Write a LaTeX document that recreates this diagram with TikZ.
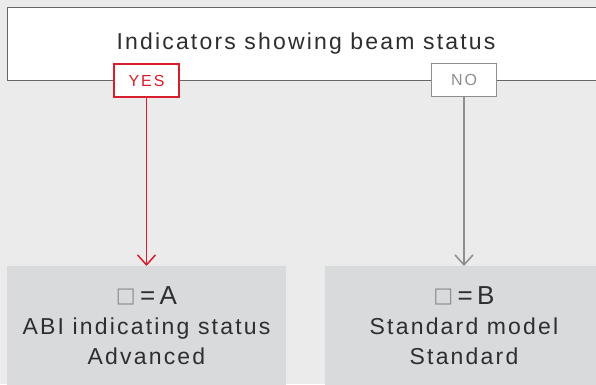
\documentclass[tikz,border=0pt]{standalone}
\usepackage{fontspec}
\setmainfont{Liberation Sans}[LetterSpace=9.5]
\newfontfamily\symfont{DejaVu Sans}
\usetikzlibrary{arrows.meta,positioning}
\definecolor{bg}{HTML}{EBEBEB}
\definecolor{boxgray}{HTML}{D9DADC}
\definecolor{ink}{HTML}{2E2E2E}
\definecolor{frame}{HTML}{666666}
\definecolor{red}{HTML}{D81E2C}
\definecolor{muted}{HTML}{8E8E8E}
\begin{document}
\begin{tikzpicture}[x=1pt,y=-1pt, every node/.style={font=\fontsize{23}{30}\selectfont,text=ink,align=center,inner sep=0pt},
  top/.style={draw=frame,line width=1pt,fill=white,minimum width=598pt,minimum height=73pt},
  tag/.style={fill=white,line width=1.5pt,minimum width=65pt,minimum height=33pt,font=\fontsize{16}{18}\selectfont\addfontfeatures{LetterSpace=12}},
  res/.style={fill=boxgray,minimum width=279pt,minimum height=130pt,anchor=north},
  a/.style={line width=1.5pt,-{Straight Barb[length=10pt,width=18pt]}}]
  \useasboundingbox (0,0) rectangle (596,384);
  \fill[bg] (0,0) rectangle (596,384);
  \clip (0,0) rectangle (596,384);
  \node[top] (q) at (306,43.5) {};
  \node (qt) at (306,44) {Indicators showing beam status};
  \node[tag,draw=red,text=red] (yes) at (146.5,80.5) {YES};
  \node[tag,draw=muted,text=muted] (no) at (464,80) {NO};
  \node[res] (ra) at (146.5,266) {};
  \node[res] (rb) at (464,266) {};
  \node[below=20pt of ra.north] (ta) {{\symfont\fontsize{21}{30}\selectfont\color{muted}\raisebox{1.5pt}{□}}{\fontsize{26}{30}\selectfont\,=\,A}\\ABI indicating status\\Advanced};
  \node[below=20pt of rb.north] (tb) {{\symfont\fontsize{21}{30}\selectfont\color{muted}\raisebox{1.5pt}{□}}{\fontsize{26}{30}\selectfont\,=\,B}\\Standard model\\Standard};
  \draw[a,draw=red] (yes) -- (ra);
  \draw[a,draw=muted] (no) -- (rb);
\end{tikzpicture}
\end{document}
